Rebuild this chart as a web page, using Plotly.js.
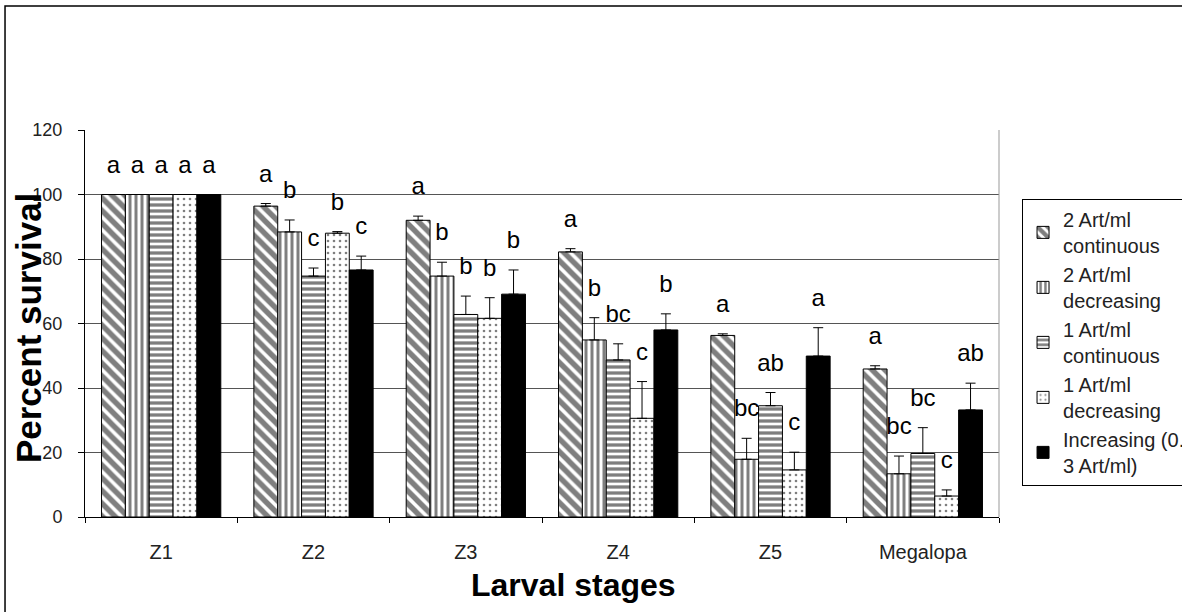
<!DOCTYPE html>
<html>
<head>
<meta charset="utf-8">
<script src="https://cdn.plot.ly/plotly-3.0.1.min.js"></script>
<style>html,body{margin:0;padding:0;background:#fff;}#chart{width:1182px;height:612px;}</style>
</head>
<body>
<div id="chart"></div>
<script>
const stages = ['Z1', 'Z2', 'Z3', 'Z4', 'Z5', 'Megalopa'];
const seriesNames = ['2 Art/ml<br>continuous', '2 Art/ml<br>decreasing', '1 Art/ml<br>continuous', '1 Art/ml<br>decreasing', 'Increasing (0.5-<br>3 Art/ml)'];

const cont2 = [100, 96.4, 92.0, 82.2, 56.3, 45.9];
const cont2Err = [0, 0.8, 1.3, 1.0, 0.5, 1.0];
const cont2Letters = ['a', 'a', 'a', 'a', 'a', 'a'];

const dec2 = [100, 88.4, 74.7, 54.9, 17.9, 13.4];
const dec2Err = [0, 3.7, 4.3, 6.9, 6.5, 5.5];
const dec2Letters = ['a', 'b', 'b', 'b', 'bc', 'bc'];

const cont1 = [100, 74.7, 62.8, 48.7, 34.5, 19.7];
const cont1Err = [0, 2.5, 5.7, 5.0, 4.1, 8.0];
const cont1Letters = ['a', 'c', 'b', 'bc', 'ab', 'bc'];

const dec1 = [100, 88.0, 61.6, 30.6, 14.6, 6.5];
const dec1Err = [0, 0.5, 6.4, 11.4, 5.5, 1.9];
const dec1Letters = ['a', 'b', 'b', 'c', 'c', 'c'];

const incr = [100, 76.6, 69.1, 58.0, 49.9, 33.2];
const incrErr = [0, 4.3, 7.5, 5.0, 8.8, 8.3];
const incrLetters = ['a', 'c', 'b', 'b', 'a', 'ab'];

const yTicks = [0, 20, 40, 60, 80, 100, 120];

const values = [cont2, dec2, cont1, dec1, incr];
const errs = [cont2Err, dec2Err, cont1Err, dec1Err, incrErr];
const letters = [cont2Letters, dec2Letters, cont1Letters, dec1Letters, incrLetters];
const patterns = [
  {shape: '\\', size: 9, solidity: 0.6},
  {shape: '|', size: 6, solidity: 0.5},
  {shape: '-', size: 6, solidity: 0.55},
  {shape: '.', size: 6, solidity: 0.15},
  null
];

const FONT = 'Liberation Sans, Arial, sans-serif';
const GAP = 0.217;
const traces = [];
values.forEach((v, i) => {
  const pat = patterns[i];
  const marker = {line: {color: '#000', width: 1}};
  if (pat) {
    marker.color = '#fff';
    marker.pattern = {shape: pat.shape, size: pat.size, solidity: pat.solidity, fgcolor: '#000', bgcolor: '#fff', fillmode: 'overlay'};
  } else {
    marker.color = '#000';
  }
  traces.push({
    type: 'bar', x: stages, y: v, name: seriesNames[i], marker: marker,
    legendgroup: 'g' + i,
    error_y: {type: 'data', symmetric: false, array: errs[i], arrayminus: errs[i].map(() => 0), color: '#000', thickness: 1, width: 5},
    hoverinfo: 'x+y'
  });
});
values.forEach((v, i) => {
  traces.push({
    type: 'scatter', mode: 'markers+text', x: stages, y: v.map((d, k) => d + errs[i][k]),
    text: letters[i], textposition: 'top center',
    textfont: {family: FONT, size: 24, color: '#000'},
    marker: {size: 24, color: 'rgba(0,0,0,0)'},
    showlegend: false, hoverinfo: 'skip', cliponaxis: false
  });
});

const layout = {
  width: 1182, height: 612,
  margin: {l: 85, r: 183, t: 130, b: 95, autoexpand: false},
  paper_bgcolor: '#fff', plot_bgcolor: '#fff',
  font: {family: FONT, color: '#222'},
  barmode: 'group', bargap: GAP, bargroupgap: 0,
  scattermode: 'group', scattergap: GAP,
  showlegend: true,
  legend: {
    x: 1.0252, y: 0.822, xanchor: 'left', yanchor: 'top',
    bordercolor: '#000', borderwidth: 1, bgcolor: '#fff',
    font: {family: FONT, size: 20, color: '#222'},
    tracegroupgap: 6, traceorder: 'normal', itemwidth: 30
  },
  xaxis: {
    type: 'category', showline: true, linecolor: '#000', linewidth: 1,
    ticks: 'outside', tickson: 'boundaries', ticklen: 5, tickcolor: '#000',
    tickfont: {family: FONT, size: 20, color: '#222'}, ticklabelstandoff: 17,
    showgrid: false, zeroline: false, fixedrange: true
  },
  yaxis: {
    range: [0, 120], tickvals: yTicks, ticktext: yTicks.map(String),
    showline: true, linecolor: '#000', linewidth: 1,
    ticks: 'outside', ticklen: 6, tickcolor: '#000',
    tickfont: {family: FONT, size: 18, color: '#222'}, ticklabelstandoff: 12,
    showgrid: true, gridcolor: '#555', gridwidth: 1, zeroline: false, fixedrange: true
  },
  annotations: [
    {text: '<b>Percent survival</b>', xref: 'paper', yref: 'paper', x: -0.0624, y: 0.488,
     textangle: -90, showarrow: false, font: {family: FONT, size: 35, color: '#000'}, xanchor: 'center', yanchor: 'middle'},
    {text: '<b>Larval stages</b>', xref: 'paper', yref: 'paper', x: 0.534, y: -0.175,
     showarrow: false, font: {family: FONT, size: 32, color: '#000'}, xanchor: 'center', yanchor: 'middle'}
  ],
  shapes: [
    {type: 'line', xref: 'paper', yref: 'paper', x0: 1, x1: 1, y0: 0, y1: 1, line: {color: '#999', width: 1}},
    {type: 'rect', xref: 'paper', yref: 'paper', x0: -0.0875, x1: 1.3, y0: -0.4, y1: 1.3204, line: {color: '#000', width: 1.5}, layer: 'below'}
  ]
};

Plotly.newPlot('chart', traces, layout, {displayModeBar: false, staticPlot: true});
</script>
</body>
</html>
